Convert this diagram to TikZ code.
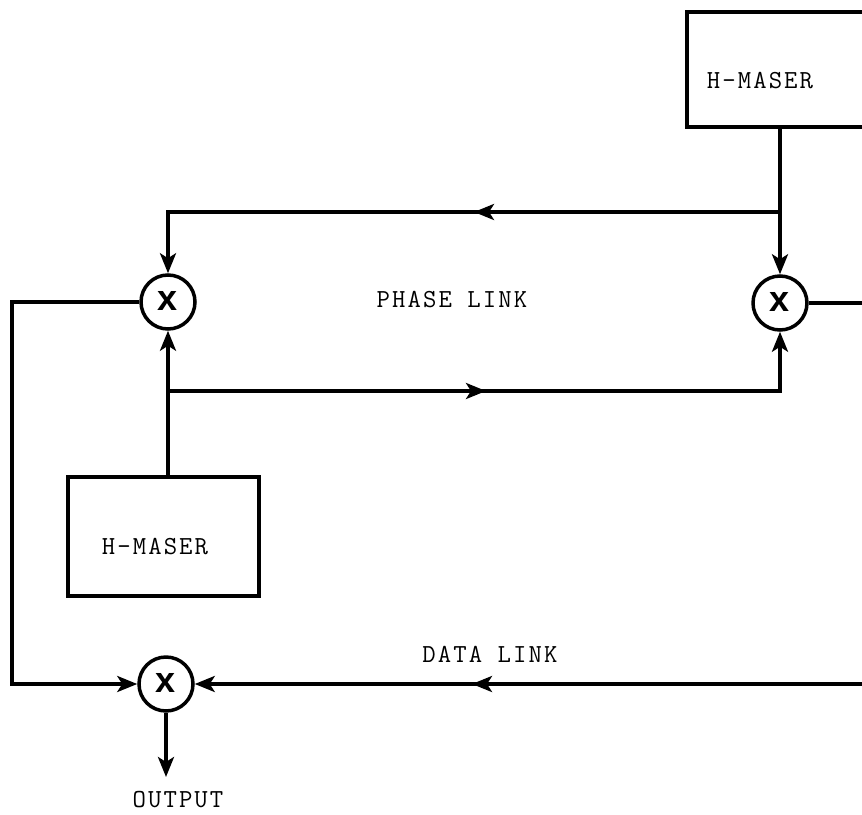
\documentclass[tikz,border=0pt]{standalone}
\usepackage{fontspec}
\setsansfont{Liberation Sans}
\newfontfamily\typew{Latin Modern Mono}[LetterSpace=8]
\usetikzlibrary{arrows.meta,decorations.markings}
\begin{document}
\begin{tikzpicture}[x=1pt,y=-1pt,
  wire/.style={line width=3.5pt},
  tipend/.style={-{Stealth[length=20pt,width=16pt,inset=5pt]}},
  maser/.style={draw,line width=4pt,inner sep=0},
  mixer/.style={draw,circle,line width=3.5pt,minimum size=54pt,inner sep=0,fill=white,
    font=\sffamily\bfseries\fontsize{36}{36}\selectfont},
  lbl/.style={inner sep=0,font=\typew\fontsize{26}{26}\selectfont},
  midarrow/.style={decoration={markings,mark=at position #1 with {\arrow{Stealth[length=20pt,width=16pt,inset=5pt]}}},postaction={decorate}}]
\clip (0,0) rectangle (862,814);
% boxes
\node[maser,minimum width=230pt,minimum height=115pt,anchor=north west] (m2) at (685,10) {};
\node[lbl,anchor=base] (t2) at (760,88) {H-MASER};
\node[maser,minimum width=191pt,minimum height=119pt] (m1) at (163.5,536.5) {};
\node[lbl,anchor=base] (t1) at (155,554) {H-MASER};
% mixers
\node[mixer] (mx1) at (168,302) {\raisebox{0.06em}{x}};
\node[mixer] (mx2) at (780,303) {\raisebox{0.06em}{x}};
\node[mixer] (mx3) at (166,684) {\raisebox{0.06em}{x}};
% junctions
\coordinate (jt) at (780,212);
\coordinate (jb) at (168,391);
\coordinate (lt) at (12,302);
\coordinate (lb) at (12,684);
\coordinate (re1) at (870,303);
\coordinate (re2) at (870,684);
\coordinate (oe) at (166,777);
% wires
\draw[wire,tipend] (mx2.north |- m2.south) -- (mx2.north);
\draw[wire,tipend,midarrow=306pt] (jt) -- (jt -| mx1) -- (mx1.north);
\draw[wire,tipend] (mx1 |- m1.north) -- (mx1.south);
\draw[wire,tipend,midarrow=318pt] (jb) -- (jb -| mx2) -- (mx2.south);
\draw[wire,tipend] (mx1.west) -- (lt) -- (lb) -- (mx3.west);
\draw[wire] (mx2.east) -- (re1);
\draw[wire,tipend,midarrow=398pt] (re2) -- (mx3.east);
\draw[wire,tipend] (mx3.south) -- (oe);
% labels
\node[lbl,anchor=base] (pl) at (452,307) {PHASE LINK};
\node[lbl,anchor=base] (dl) at (490,662) {DATA LINK};
\node[lbl,anchor=base] (op) at (178,807) {OUTPUT};
\end{tikzpicture}
\end{document}
